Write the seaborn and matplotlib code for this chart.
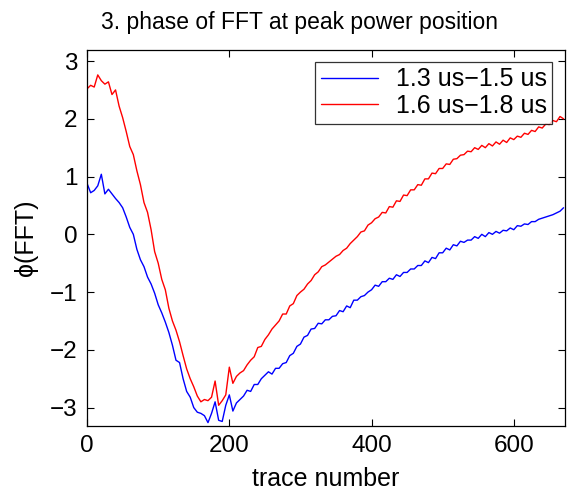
import numpy as np
import pandas as pd
import matplotlib
matplotlib.use("Agg")
import matplotlib.pyplot as plt
import seaborn as sns

# trace numbers (every 5th trace) and the two phase curves
trace = np.arange(0, 671, 5)

phase_13_15 = [
    0.88, 0.72, 0.76, 0.84, 1.04, 0.70, 0.78, 0.70, 0.62, 0.55,
    0.46, 0.30, 0.12, 0.00, -0.26, -0.44, -0.56, -0.74, -0.86, -1.02,
    -1.22, -1.36, -1.52, -1.70, -1.92, -2.18, -2.22, -2.50, -2.72, -2.82,
    -3.00, -3.08, -3.10, -3.14, -3.26, -3.10, -2.90, -3.22, -3.24, -2.96,
    -2.78, -3.06, -2.92, -2.86, -2.80, -2.70, -2.72, -2.60, -2.60, -2.50,
    -2.44, -2.38, -2.42, -2.32, -2.32, -2.24, -2.22, -2.10, -2.06, -1.94,
    -1.90, -1.78, -1.75, -1.64, -1.63, -1.54, -1.55, -1.48, -1.48, -1.42,
    -1.41, -1.32, -1.34, -1.24, -1.27, -1.14, -1.14, -1.08, -1.06, -1.00,
    -0.96, -0.88, -0.90, -0.82, -0.82, -0.76, -0.78, -0.70, -0.73, -0.66,
    -0.66, -0.60, -0.60, -0.54, -0.54, -0.46, -0.49, -0.40, -0.42, -0.32,
    -0.32, -0.24, -0.27, -0.18, -0.20, -0.12, -0.14, -0.10, -0.10, -0.04,
    -0.07, 0.00, -0.04, 0.03, 0.00, 0.05, 0.02, 0.07, 0.06, 0.11,
    0.08, 0.15, 0.14, 0.18, 0.17, 0.22, 0.22, 0.26, 0.28, 0.30,
    0.32, 0.34, 0.37, 0.40, 0.46,
]

phase_16_18 = [
    2.52, 2.58, 2.55, 2.76, 2.66, 2.60, 2.64, 2.42, 2.50, 2.22,
    2.02, 1.78, 1.52, 1.38, 1.10, 0.86, 0.55, 0.38, 0.08, -0.30,
    -0.50, -0.78, -0.96, -1.28, -1.50, -1.66, -1.86, -2.10, -2.33, -2.50,
    -2.64, -2.80, -2.90, -2.86, -2.88, -2.82, -2.54, -2.96, -2.88, -2.78,
    -2.30, -2.58, -2.46, -2.40, -2.36, -2.26, -2.18, -2.12, -1.96, -1.94,
    -1.82, -1.74, -1.64, -1.57, -1.50, -1.38, -1.38, -1.24, -1.20, -1.06,
    -1.00, -0.95, -0.86, -0.80, -0.70, -0.65, -0.56, -0.53, -0.48, -0.43,
    -0.38, -0.35, -0.28, -0.24, -0.16, -0.10, -0.04, 0.04, 0.06, 0.16,
    0.20, 0.27, 0.30, 0.38, 0.37, 0.48, 0.47, 0.58, 0.57, 0.68,
    0.67, 0.77, 0.77, 0.86, 0.85, 0.96, 0.96, 1.06, 1.05, 1.14,
    1.14, 1.22, 1.21, 1.30, 1.31, 1.37, 1.38, 1.44, 1.43, 1.50,
    1.47, 1.54, 1.50, 1.57, 1.53, 1.60, 1.56, 1.63, 1.59, 1.67,
    1.64, 1.70, 1.68, 1.75, 1.73, 1.80, 1.78, 1.86, 1.84, 1.91,
    1.90, 1.97, 1.95, 2.04, 2.00,
]

labels = ["1.3 us\u22121.5 us", "1.6 us\u22121.8 us"]

df = pd.DataFrame({
    "trace": np.concatenate([trace, trace]),
    "phase": np.concatenate([phase_13_15, phase_16_18]),
    "window": [labels[0]] * len(trace) + [labels[1]] * len(trace),
})

sns.set_style("ticks")
plt.rcParams["font.family"] = ["Liberation Sans", "DejaVu Sans"]
plt.rcParams["text.color"] = "black"
plt.rcParams["axes.labelcolor"] = "black"
plt.rcParams["xtick.color"] = "black"
plt.rcParams["ytick.color"] = "black"

fig = plt.figure(figsize=(5.73, 5.0), dpi=100)
ax = fig.add_axes([0.152, 0.149, 0.834, 0.752])

sns.lineplot(data=df, x="trace", y="phase", hue="window",
             palette={labels[0]: "#0000ff", labels[1]: "#ff0000"},
             linewidth=1.0, ax=ax, estimator=None, sort=False)

ax.set_xlim(0, 672)
ax.set_ylim(-3.31, 3.2)
ax.set_xticks([0, 200, 400, 600])
ax.set_yticks([-3, -2, -1, 0, 1, 2, 3])
ax.tick_params(direction="in", length=5, width=0.8, top=True, right=True,
               labelsize=17.5, colors="black", labelcolor="black")
ax.tick_params(axis="x", pad=7)
ax.tick_params(axis="y", pad=7)
for s in ax.spines.values():
    s.set_visible(True)
    s.set_linewidth(0.9)
    s.set_color("black")

ax.set_xlabel("trace number", fontsize=18, color="black")
ax.set_ylabel("\u03d5(FFT)", fontsize=18, color="black")
ax.xaxis.set_label_coords(0.5, -0.11)
ax.yaxis.set_label_coords(-0.102, 0.5)
fig.text(0.522, 0.943, "3. phase of FFT at peak power position",
         fontsize=16.5, ha="center", va="baseline", color="black")

leg = ax.legend(loc="upper right", fontsize=18, frameon=True, fancybox=False,
                edgecolor="black", handlelength=2.3, borderaxespad=0.5,
                borderpad=0.22, labelspacing=0.1, handletextpad=0.7)
leg.get_frame().set_linewidth(0.9)
for t in leg.get_texts():
    t.set_color("black")

fig.savefig("out.png", dpi=100)
